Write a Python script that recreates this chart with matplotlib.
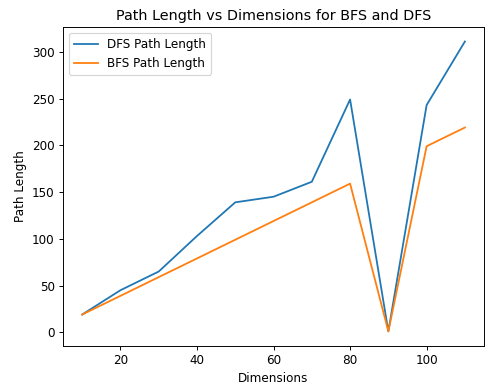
import matplotlib
matplotlib.use("Agg")
import matplotlib.pyplot as plt

dimensions = [10, 20, 30, 40, 50, 60, 70, 80, 90, 100, 110]
dfs_path_length = [19, 45, 65, 103, 139, 145, 161, 249, 1, 243, 311]
bfs_path_length = [19, 39, 59, 79, 99, 119, 139, 159, 1, 199, 219]

DPI = 86
fig = plt.figure(figsize=(485 / DPI, 386 / DPI), dpi=DPI)
ax = fig.add_axes([0.130, 0.104, 0.868, 0.826])
ax.plot(dimensions, dfs_path_length, label="DFS Path Length")
ax.plot(dimensions, bfs_path_length, label="BFS Path Length")
ax.set_xlabel("Dimensions")
ax.set_ylabel("Path Length")
ax.set_title("Path Length vs Dimensions for BFS and DFS")
ax.legend(loc="upper left")
fig.savefig("out.png", dpi=DPI)
